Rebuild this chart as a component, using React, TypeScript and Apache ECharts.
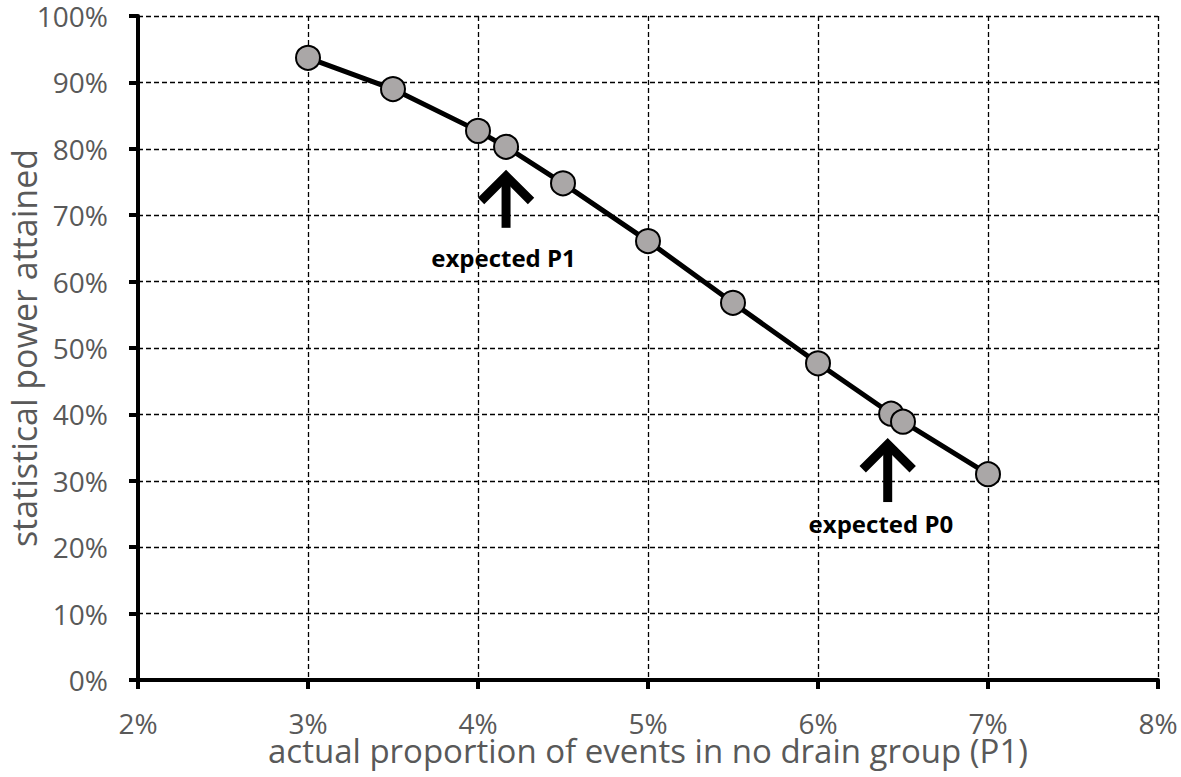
import React, { useEffect, useRef } from "react";
import * as echarts from "echarts";

// actual proportion of events in no drain group (P1), in %
const proportions = [3, 3.5, 4, 4.165, 4.5, 5, 5.5, 6, 6.43, 6.5, 7];
// statistical power attained, in %
const power = [93.7, 89.0, 82.7, 80.3, 74.8, 66.1, 56.8, 47.7, 40.1, 38.9, 31.0];

// annotations (arrow x, arrow tip y, arrow base y, label x, label y)
const annX = [4.165, 6.41];
const annTip = [76.8, 36.4];
const annBase = [68.1, 26.8];
const annTextX = [4.15, 6.37];
const annTextY = [63.7, 23.6];
const annLabels = ["expected P1", "expected P0"];

const FONT = "'Open Sans', 'Noto Sans', sans-serif";
const GRAY = "#595959";

export default function App() {
  const ref = useRef<HTMLDivElement>(null);
  useEffect(() => {
    const chart = echarts.init(ref.current!, null, { renderer: "svg" });
    chart.setOption({
      animation: false,
      backgroundColor: "#ffffff",
      grid: { left: 138, right: 23, top: 16, bottom: 97, outerBoundsMode: "none", containLabel: false },
      xAxis: {
        type: "value",
        min: 2,
        max: 8,
        interval: 1,
        name: "actual proportion of events in no drain group (P1)",
        nameLocation: "middle",
        nameGap: 55,
        nameMoveOverlap: false,
        nameTextStyle: { fontSize: 33, lineHeight: 30, color: GRAY, fontFamily: FONT },
        axisLine: { show: true, lineStyle: { color: "#000", width: 4 } },
        axisTick: { show: true, length: 9, lineStyle: { color: "#000", width: 4 } },
        axisLabel: { formatter: "{value}%", fontSize: 28, lineHeight: 20, color: GRAY, fontFamily: FONT, margin: 33 },
        splitLine: { show: true, lineStyle: { color: "#000", width: 1.3, type: [5, 3] } },
      },
      yAxis: {
        type: "value",
        min: 0,
        max: 100,
        interval: 10,
        name: "statistical power attained",
        nameLocation: "middle",
        nameGap: 97,
        nameMoveOverlap: false,
        nameTextStyle: { fontSize: 34, lineHeight: 34, color: GRAY, fontFamily: FONT },
        axisLine: { show: true, lineStyle: { color: "#000", width: 4 } },
        axisTick: { show: true, length: 9, lineStyle: { color: "#000", width: 4 } },
        axisLabel: { formatter: "{value}%", fontSize: 28, lineHeight: 24, color: GRAY, fontFamily: FONT, margin: 30 },
        splitLine: { show: true, lineStyle: { color: "#000", width: 1.3, type: [5, 3] } },
      },
      series: [
        {
          type: "line",
          data: proportions.map((p, i) => [p, power[i]]),
          symbol: "circle",
          symbolSize: 24,
          lineStyle: { color: "#000", width: 5 },
          itemStyle: { color: "#aaa7a7", borderColor: "#000", borderWidth: 2 },
          z: 3,
        },
        {
          type: "custom",
          data: annX.map((x, i) => [x, annTip[i], annBase[i], annTextX[i], annTextY[i]]),
          encode: { x: 0, y: 1 },
          z: 4,
          renderItem: (params: any, api: any) => {
            const i = params.dataIndex;
            const tip = api.coord([api.value(0), api.value(1)]);
            const base = api.coord([api.value(0), api.value(2)]);
            const txt = api.coord([api.value(3), api.value(4)]);
            return {
              type: "group",
              children: [
                {
                  type: "line",
                  shape: { x1: tip[0], y1: tip[1] + 6, x2: base[0], y2: base[1] },
                  style: { stroke: "#000", lineWidth: 9 },
                },
                {
                  type: "polyline",
                  shape: {
                    points: [
                      [tip[0] - 25, tip[1] + 31],
                      [tip[0], tip[1] + 6],
                      [tip[0] + 25, tip[1] + 31],
                    ],
                  },
                  style: { stroke: "#000", lineWidth: 9, fill: "none", lineJoin: "miter" },
                },
                {
                  type: "text",
                  x: txt[0],
                  y: txt[1],
                  style: {
                    text: annLabels[i],
                    fontSize: 24,
                    fontWeight: "bold",
                    fontFamily: FONT,
                    fill: "#000",
                    align: "center",
                    verticalAlign: "middle",
                  },
                },
              ],
            };
          },
        },
      ],
    });
    return () => chart.dispose();
  }, []);
  return (
    <div
      ref={ref}
      style={{ position: "fixed", left: 0, top: 0, width: 1181, height: 777, background: "#fff" }}
    />
  );
}
